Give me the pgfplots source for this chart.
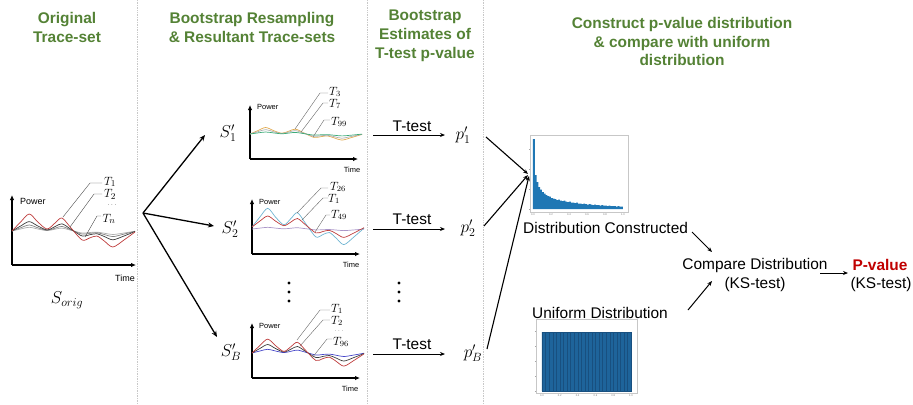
\documentclass[border=0pt]{standalone}
\usepackage{fontspec}
\setmainfont{Liberation Sans}
\usepackage{pgfplots}
\usepackage{pgfplotstable}
\pgfplotsset{compat=1.18}
\usetikzlibrary{arrows.meta}

\definecolor{hgreen}{RGB}{84,130,53}
\definecolor{pred}{RGB}{192,0,0}
\definecolor{histblue}{RGB}{31,119,180}
\definecolor{unifill}{RGB}{30,100,155}
\definecolor{uniedge}{RGB}{24,80,128}
\definecolor{sepgray}{RGB}{200,200,200}
\definecolor{cRed}{RGB}{190,60,60}
\definecolor{cBlack}{RGB}{60,60,60}
\definecolor{cGray}{RGB}{130,130,130}
\definecolor{cLGray}{RGB}{175,175,175}
\definecolor{cOrange}{RGB}{225,170,80}
\definecolor{cGreen}{RGB}{60,170,120}
\definecolor{cLBlue}{RGB}{110,180,210}
\definecolor{cPurple}{RGB}{170,150,200}
\definecolor{cBlue}{RGB}{70,70,200}

\pgfplotstableread{
x r k g l
0 34 34 34 34
7 43 39 37.2 36
14 51 43.4 40 37.7
21 43 39 37.2 36
28.5 36 35.1 34.7 34.4
35 42 38.4 36.8 35.8
40.6 47 41.2 38.6 36.9
48 37 35.7 35.1 34.7
57 25 29 30.9 32
63 27 30.2 31.6 32.5
69 29 31.3 32.3 32.9
75 24 28.5 30.5 31.8
82 18 25.2 28.4 30.5
91 25 29 30.9 32
100 33 33.5 33.7 33.8
}\origdata

\pgfplotstableread{
x o g n
0 25 25 25
7 28.4 27.3 26.1
14 31.5 29.4 27
21 28.4 27.3 26.1
28.5 25.8 25.5 25.2
35 28 27.1 26
40.6 29.9 28.4 26.6
48 26.1 25.8 25.4
57 21.6 22.7 23.9
63 22.3 23.2 24.2
69 23.1 23.7 24.4
75 21.2 22.4 23.8
82 18.9 20.8 23.1
91 21.6 22.7 23.9
100 24.6 24.7 24.9
}\plotA

\pgfplotstableread{
x b r p
0 27 27 25
7 36.9 32.9 25.9
14 45.7 38 26.7
21 36.9 32.9 25.9
28.5 29.2 28.3 25.2
35 35.8 32.2 25.8
40.6 41.3 35.5 26.3
48 30.3 29 25.3
57 17.1 21.1 24.1
63 19.3 22.4 24.3
69 21.5 23.7 24.5
75 16 20.5 24
82 9.4 16.6 23.4
91 17.1 21.1 24.1
100 25.9 26.3 24.9
}\plotB

\pgfplotstableread{
x r k b
0 25 25 25
7 32.4 29.5 27
14 38.9 33.5 28.7
21 32.4 29.5 27
28.5 26.6 26 25.4
35 31.6 29 26.8
40.6 35.7 31.5 27.9
48 27.5 26.5 25.7
57 17.6 20.5 23
63 19.3 21.5 23.5
69 20.9 22.5 23.9
75 16.8 20 22.8
82 11.9 17 21.5
91 17.6 20.5 23
100 24.2 24.5 24.8
}\plotC

\pgfplotstableread{
x y
0.00 70
0.02 34
0.04 27
0.06 22
0.08 19.5
0.10 17
0.12 15.5
0.14 14
0.16 13
0.18 12.5
0.20 11
0.22 10.5
0.24 10
0.26 9
0.28 9.5
0.30 8.5
0.32 8
0.34 8.5
0.36 7.5
0.38 7
0.40 7.5
0.42 6.5
0.44 6.5
0.46 6
0.48 6.5
0.50 5.5
0.52 5.5
0.54 5
0.56 5.5
0.58 5
0.60 4.5
0.62 5
0.64 4.5
0.66 4
0.68 4.5
0.70 4
0.72 4
0.74 3.5
0.76 4
0.78 3.5
0.80 3.5
0.82 3
0.84 3.5
0.86 3
0.88 3
0.90 3
0.92 2.5
0.94 3
0.96 2.5
0.98 2.5
1.00 2.5
}\histdata

\pgfplotstableread{
x y
0.00 59
0.04 59
0.08 59
0.12 59
0.16 59
0.20 59
0.24 59
0.28 59
0.32 59
0.36 59
0.40 59
0.44 59
0.48 59
0.52 59
0.56 59
0.60 59
0.64 59
0.68 59
0.72 59
0.76 59
0.80 59
0.84 59
0.88 59
0.92 59
0.96 59
1.00 59
}\unifdata

\pgfplotsset{
  trace/.style={scale only axis, anchor=south west, axis lines=left,
    axis line style={line width=1.1pt,-{Latex[length=5bp,width=4.5bp]}},
    xtick=\empty, ytick=\empty, xmin=0, ymin=0, clip=false},
  tr/.style={smooth, line width=0.7pt, no markers},
  hist/.style={scale only axis, anchor=south west,
    axis line style={draw=black!22, line width=0.6pt},
    tick style={draw=black!35, line width=0.3pt}, major tick length=1.2bp,
    tick align=outside,
    ticklabel style={font=\fontsize{2.6}{3}\selectfont, text=black!55, inner sep=0.4bp},
    xtick={0,0.2,0.4,0.6,0.8,1}, xticklabels={0.0,0.2,0.4,0.6,0.8,1.0},
    xtick pos=bottom, ytick pos=left, yticklabels={,,,,,,}, clip=false},
}

\newcommand\hfont{\fontsize{15.5}{19}\selectfont\bfseries}
\newcommand\tfont{\fontsize{15.5}{18}\selectfont}
\newcommand\mfont{\fontsize{17}{20}\selectfont}
\newcommand\lfont{\fontsize{11.5}{12}\selectfont}
\newcommand\ofont{\fontsize{13}{14}\selectfont}

\begin{document}
\begin{tikzpicture}
\begin{scope}[x=1bp,y=-1bp]
\path[use as bounding box] (0,0) rectangle (913,404);
% separators
\foreach \sx in {137,367,483}{\draw[sepgray, densely dotted, line width=0.7pt] (\sx,0)--(\sx,404);}
% headings
\node[align=center, text=hgreen, font=\hfont] at (67,27.5) {Original\\Trace-set};
\node[align=center, text=hgreen, font=\hfont] at (252,27.5) {Bootstrap Resampling\\\& Resultant Trace-sets};
\node[align=center, text=hgreen, font=\hfont] at (425,36) {Bootstrap\\Estimates of\\T-test p-value};
\node[align=center, text=hgreen, font=\hfont] at (682,41.5) {Construct p-value distribution\\\& compare with uniform\\distribution};
\end{scope}

% ---------- original trace set
\begin{axis}[trace, at={(12bp,-265bp)}, width=124bp, height=70bp, xmax=100.8, ymax=70]
\addplot[tr, cLGray] table[x=x,y=l]{\origdata};
\addplot[tr, cGray] table[x=x,y=g]{\origdata};
\addplot[tr, cBlack] table[x=x,y=k]{\origdata};
\addplot[tr, cRed] table[x=x,y=r]{\origdata};
\end{axis}

% ---------- S'_1
\begin{axis}[trace, at={(250bp,-159bp)}, width=108bp, height=54bp, xmax=96.4, ymax=54]
\addplot[tr, cOrange] table[x=x,y=o]{\plotA};
\addplot[tr, cLGray] table[x=x,y=g]{\plotA};
\addplot[tr, cGreen] table[x=x,y=n]{\plotA};
\end{axis}

% ---------- S'_2
\begin{axis}[trace, at={(252bp,-254bp)}, width=108bp, height=55bp, xmax=96.4, ymax=55]
\addplot[tr, cPurple] table[x=x,y=p]{\plotB};
\addplot[tr, cLBlue] table[x=x,y=b]{\plotB};
\addplot[tr, cRed] table[x=x,y=r]{\plotB};
\end{axis}

% ---------- S'_B
\begin{axis}[trace, at={(252bp,-378bp)}, width=108bp, height=55bp, xmax=96.4, ymax=55]
\addplot[tr, cBlue] table[x=x,y=b]{\plotC};
\addplot[tr, cBlack] table[x=x,y=k]{\plotC};
\addplot[tr, cRed] table[x=x,y=r]{\plotC};
\end{axis}

% ---------- constructed distribution
\begin{axis}[hist, at={(530bp,-212bp)}, width=98bp, height=77bp,
  xmin=-0.033, xmax=1.056, ymin=-3, ymax=74, ytick={0,20,40,60}]
\addplot[ybar interval, fill=histblue, draw=none] table[x=x,y=y]{\histdata};
\end{axis}

% ---------- uniform distribution
\begin{axis}[hist, at={(536bp,-393bp)}, width=101bp, height=74bp,
  xmin=-0.067, xmax=1.067, ymin=-2, ymax=72, ytick={0,15,30,45,60}]
\addplot[ybar interval, fill=unifill, draw=uniedge, line width=0.2pt] table[x=x,y=y]{\unifdata};
\end{axis}

\begin{scope}[x=1bp,y=-1bp]
% original plot labels
\node[anchor=west, font=\fontsize{9}{10}\selectfont, inner sep=0] at (20,201) {Power};
\node[font=\fontsize{9}{10}\selectfont, inner sep=0] at (125,278) {Time};
\node[font=\ofont, inner sep=0] at (110,182) {$T_1$};
\node[font=\ofont, inner sep=0] at (110,194.5) {$T_2$};
\node[font=\fontsize{6}{6}\selectfont, inner sep=0] at (112,205.5) {$\cdots$};
\node[font=\ofont, inner sep=0] at (109,219) {$T_n$};
\draw[black!70, line width=0.4pt] (102,183)--(90,183)--(63,217);
\draw[black!70, line width=0.4pt] (102,194)--(94,194)--(70,227);
\draw[black!70, line width=0.4pt] (101,216)--(97,216)--(85,237);
\node[font=\mfont] at (67,300) {$S_{orig}$};

% fan-out arrows
\draw[-{Stealth[length=6bp,width=5bp]}, line width=1.3bp] (143,213)--(205,135);
\draw[-{Stealth[length=6bp,width=5bp]}, line width=1.3bp] (143,213)--(214,226);
\draw[-{Stealth[length=6bp,width=5bp]}, line width=1.3bp] (143,213)--(217,337);
\node[font=\mfont] at (228,133) {$S'_1$};
\node[font=\mfont] at (230,229) {$S'_2$};
\node[font=\mfont] at (231,352) {$S'_B$};

% mini plot labels 1
\node[anchor=west, font=\fontsize{7.5}{8}\selectfont, inner sep=0] at (257,107) {Power};
\node[font=\fontsize{7.5}{8}\selectfont, inner sep=0] at (352,170) {Time};
\node[font=\lfont, inner sep=0] at (335,92) {$T_3$};
\node[font=\lfont, inner sep=0] at (335,104) {$T_7$};
\node[font=\lfont, inner sep=0] at (339,122) {$T_{99}$};
\draw[black!60, line width=0.4pt] (328,93)--(320,93)--(295,129);
\draw[black!60, line width=0.4pt] (328,103)--(323,103)--(301,132);
\draw[black!60, line width=0.4pt] (330,120)--(324,120)--(313,137);

% mini plot labels 2
\node[anchor=west, font=\fontsize{7.5}{8}\selectfont, inner sep=0] at (259,202) {Power};
\node[font=\fontsize{7.5}{8}\selectfont, inner sep=0] at (351,265) {Time};
\node[font=\lfont, inner sep=0] at (338,187) {$T_{26}$};
\node[font=\lfont, inner sep=0] at (334,199) {$T_1$};
\node[font=\lfont, inner sep=0] at (339,215) {$T_{49}$};
\draw[black!60, line width=0.4pt] (328,188)--(321,188)--(297,213);
\draw[black!60, line width=0.4pt] (328,198)--(323,198)--(302,220);
\draw[black!60, line width=0.4pt] (330,215)--(326,215)--(315,232);

% mini plot labels 3
\node[anchor=west, font=\fontsize{7.5}{8}\selectfont, inner sep=0] at (259,326) {Power};
\node[font=\fontsize{7.5}{8}\selectfont, inner sep=0] at (350,389) {Time};
\node[font=\lfont, inner sep=0] at (337,309) {$T_1$};
\node[font=\lfont, inner sep=0] at (337,321) {$T_2$};
\node[font=\fontsize{5}{5}\selectfont, inner sep=0] at (339,331) {$\cdots$};
\node[font=\lfont, inner sep=0] at (341,342) {$T_{96}$};
\draw[black!60, line width=0.4pt] (330,310)--(320,310)--(297,340);
\draw[black!60, line width=0.4pt] (330,320)--(323,320)--(300,346);
\draw[black!60, line width=0.4pt] (332,339)--(327,339)--(312,358);

% vertical dots
\foreach \dx in {289,399}{
  \foreach \dy in {283,292,301}{\fill (\dx,\dy) circle[radius=1.7];}
}

% T-test arrows
\foreach \yy/\ty in {135/126, 229/219, 354/344}{
  \draw[-{Stealth[length=5bp,width=4bp]}, line width=0.9bp] (373,\yy)--(445,\yy);
  \node[font=\tfont, inner sep=0] at (412,\ty) {T-test};
}
\node[font=\mfont] at (463,135) {$p'_1$};
\node[font=\mfont] at (468,228) {$p'_2$};
\node[font=\mfont] at (473,353) {$p'_B$};

% converge to histogram
\draw[-{Stealth[length=5bp,width=4bp]}, line width=1.1bp] (486,137)--(528,174);
\draw[-{Stealth[length=5bp,width=4bp]}, line width=1.1bp] (484,226)--(528,175);
\draw[-{Stealth[length=5bp,width=4bp]}, line width=1.1bp] (487,349)--(529,176);

\node[anchor=west, font=\tfont, inner sep=0] at (523,228) {Distribution Constructed};
\node[font=\tfont, inner sep=0] at (600,313) {Uniform Distribution};
\node[font=\tfont, inner sep=0] at (755,265) {Compare Distribution};
\node[font=\tfont, inner sep=0] at (755,284) {(KS-test)};
\node[font=\tfont\bfseries, text=pred, inner sep=0] at (880,265) {P-value};
\node[font=\tfont, inner sep=0] at (881,284) {(KS-test)};
\draw[-{Stealth[length=5bp,width=4bp]}, line width=1bp] (692,232)--(712,252);
\draw[-{Stealth[length=5bp,width=4bp]}, line width=1bp] (688,310)--(712,281);
\draw[-{Stealth[length=5bp,width=4bp]}, line width=1bp] (820,273)--(848,273);
\end{scope}
\end{tikzpicture}
\end{document}
